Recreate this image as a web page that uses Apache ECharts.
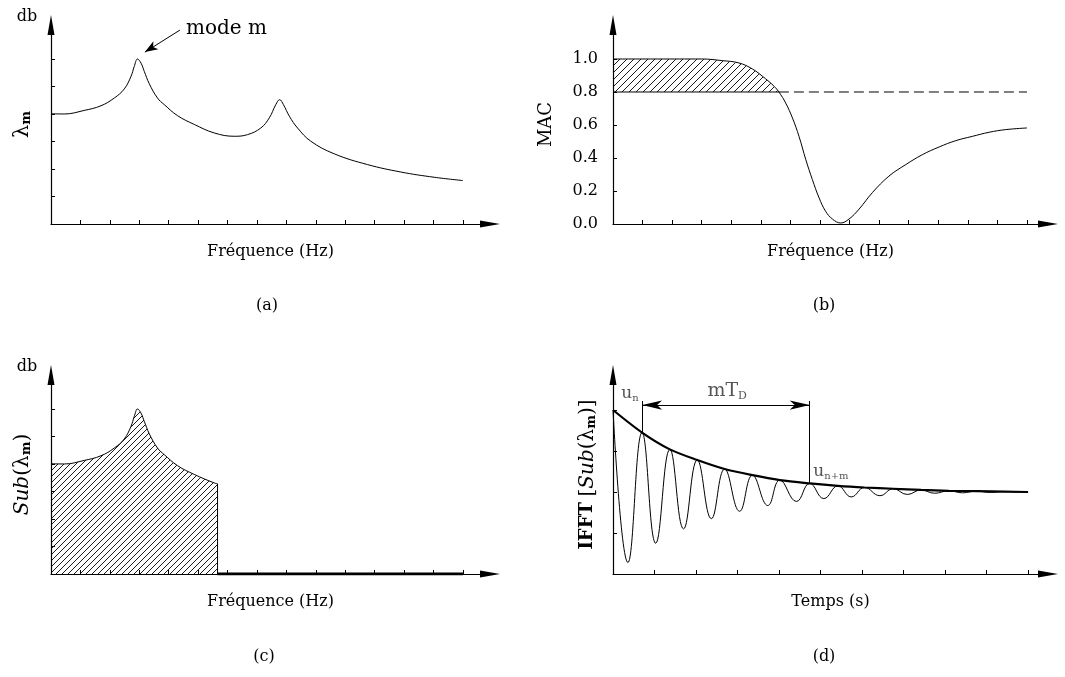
<!DOCTYPE html>
<html>
<head>
<meta charset="utf-8">
<script src="https://cdn.jsdelivr.net/npm/echarts@6/dist/echarts.min.js"></script>
<style>
  html, body { margin: 0; padding: 0; background: #fff; }
  #chart { width: 1065px; height: 677px; }
</style>
</head>
<body>
<div id="chart"></div>
<script>
// ---- tick positions ----
const freqTicks = [0, 1, 2, 3, 4, 5, 6, 7, 8, 9, 10, 11, 12, 13, 14];
const levelTicks = [1, 2, 3, 4, 5, 6];
const macTicks = [0, 0.2, 0.4, 0.6, 0.8, 1.0];
const timeTicks = [0, 1, 2, 3, 4, 5, 6, 7, 8, 9, 10];
const ifftTicks = [1, 2, 3, 4];

// ---- (a) FRF magnitude, [frequency step, level] ----
const spectrum = [
  [0, 4.01], [0.45, 4.0], [1.13, 4.13], [1.70, 4.30], [2.15, 4.58], [2.49, 4.91],
  [2.72, 5.37], [2.83, 5.73], [2.94, 6.0], [3.06, 5.85], [3.17, 5.55], [3.34, 5.10],
  [3.62, 4.58], [3.85, 4.34], [4.30, 3.94], [4.87, 3.62], [5.55, 3.31], [6.23, 3.19],
  [6.68, 3.25], [7.13, 3.49], [7.42, 3.86], [7.64, 4.34], [7.77, 4.52], [7.90, 4.34],
  [8.10, 3.92], [8.38, 3.49], [8.83, 3.01], [9.63, 2.55], [10.76, 2.16], [11.89, 1.89],
  [13.02, 1.70], [14.0, 1.58]
];

// ---- (c) sub-band kept around mode m ----
const subCutoff = 5.66;
const subCutLevel = 3.28;

// ---- (b) MAC along frequency ----
const mac = [
  [0, 1.0], [1.5, 1.0], [3.0, 1.0], [3.70, 0.99], [4.26, 0.976], [4.71, 0.94],
  [5.16, 0.88], [5.45, 0.834], [5.61, 0.80], [5.84, 0.733], [6.07, 0.642], [6.29, 0.531],
  [6.52, 0.39], [6.74, 0.27], [6.97, 0.158], [7.19, 0.077], [7.42, 0.03], [7.70, 0.006],
  [7.98, 0.03], [8.32, 0.09], [8.77, 0.19], [9.33, 0.29], [9.90, 0.36], [10.46, 0.42],
  [11.03, 0.467], [11.59, 0.505], [12.15, 0.531], [12.72, 0.556], [13.28, 0.572], [14.0, 0.582]
];
const macThreshold = 0.8;
const macCross = 5.61;

// ---- (d) impulse response of the sub-band: extrema and decay envelope ----
const ifftWave = [
  [0, 4.0], [0.36, 0.28], [0.70, 3.45], [1.03, 0.75], [1.37, 3.04], [1.70, 1.10],
  [2.03, 2.78], [2.37, 1.35], [2.69, 2.56], [3.05, 1.53], [3.36, 2.41], [3.73, 1.67],
  [4.02, 2.29], [4.42, 1.77], [4.74, 2.21], [5.08, 1.84], [5.42, 2.15], [5.74, 1.88],
  [6.06, 2.11], [6.43, 1.91], [6.75, 2.08], [7.09, 1.94], [7.42, 2.05], [7.75, 1.97],
  [8.09, 2.03], [8.42, 1.98], [8.76, 2.02], [9.09, 1.99], [9.43, 2.01], [9.76, 1.995],
  [10.0, 2.0]
];
const ifftEnvelope = [
  [0, 4.0], [0.70, 3.45], [1.37, 3.04], [2.03, 2.78], [2.69, 2.56], [3.36, 2.41],
  [4.02, 2.29], [4.74, 2.21], [5.42, 2.15], [6.06, 2.11], [6.75, 2.08], [7.42, 2.05],
  [8.09, 2.03], [8.76, 2.02], [9.43, 2.01], [10.0, 2.0]
];
const peakN = [0.70, 3.45];
const peakNM = [4.74, 2.21];
const dimLevel = 4.12;
const dimTop = 4.22;

// ---- styling helpers ----
const FONT = 'DejaVu Serif';
const INK = '#000';

function hatch(step) {
  const c = document.createElement('canvas');
  c.width = step; c.height = step;
  const g = c.getContext('2d');
  g.strokeStyle = '#000';
  g.lineWidth = 0.9;
  g.beginPath();
  g.moveTo(0, step); g.lineTo(step, 0);
  g.moveTo(-1, 1); g.lineTo(1, -1);
  g.moveTo(step - 1, step + 1); g.lineTo(step + 1, step - 1);
  g.stroke();
  return { image: c, repeat: 'repeat' };
}

const axisLine = {
  show: true,
  symbol: ['none', 'triangle'],
  symbolSize: [7, 20],
  lineStyle: { color: INK, width: 1.2 }
};

function xAxis(gridIndex, max, ticks, name) {
  return {
    type: 'value', gridIndex, min: 0, max,
    axisLine,
    axisTick: { show: true, inside: true, length: 4, customValues: ticks, lineStyle: { color: INK, width: 1 } },
    axisLabel: { show: false },
    splitLine: { show: false },
    name, nameLocation: 'middle', nameGap: 20,
    nameTextStyle: { fontFamily: FONT, fontSize: 16, color: INK }
  };
}

function yAxis(gridIndex, max, ticks, name, gap, rich, labels) {
  return {
    type: 'value', gridIndex, min: 0, max,
    axisLine,
    axisTick: { show: true, inside: true, length: 4, customValues: ticks, lineStyle: { color: INK, width: 1 } },
    axisLabel: labels || { show: false },
    splitLine: { show: false },
    name, nameLocation: 'middle', nameGap: gap, nameRotate: 90,
    nameTextStyle: { fontFamily: FONT, fontSize: 18, color: INK, rich }
  };
}

const thin = { color: INK, width: 1 };
const base = { type: 'line', showSymbol: false, silent: true, animation: false };

const subSpectrum = spectrum.filter(p => p[0] < subCutoff).concat([[subCutoff, subCutLevel]]);
const macBand = mac.filter(p => p[0] <= macCross);
const macHatch = hatch(7);

const subRich = {
  l: { fontFamily: FONT, fontSize: 21, color: INK },
  s: { fontFamily: FONT, fontSize: 13, fontWeight: 'bold', color: INK, padding: [8, 0, 0, 0] },
  i: { fontFamily: FONT, fontSize: 20, fontStyle: 'italic', color: INK },
  b: { fontFamily: FONT, fontSize: 18, fontWeight: 'bold', color: INK },
  n: { fontFamily: FONT, fontSize: 20, color: INK }
};

const noteRich = {
  u: { fontFamily: FONT, fontSize: 17, color: '#555' },
  s: { fontFamily: FONT, fontSize: 10, color: '#555', padding: [8, 0, 0, 0] }
};

const option = {
  backgroundColor: '#fff',
  animation: false,
  grid: [
    { left: 51, top: 25, width: 439, height: 199 },
    { left: 613, top: 25, width: 435, height: 199 },
    { left: 51, top: 375, width: 439, height: 199 },
    { left: 613, top: 375, width: 435, height: 199 }
  ],
  xAxis: [
    xAxis(0, 14.92, freqTicks, 'Fréquence (Hz)'),
    xAxis(1, 14.71, freqTicks, 'Fréquence (Hz)'),
    xAxis(2, 14.92, freqTicks, 'Fréquence (Hz)'),
    xAxis(3, 10.48, timeTicks, 'Temps (s)')
  ],
  yAxis: [
    yAxis(0, 7.236, levelTicks, '{l|λ}{s|m}', 18, subRich),
    yAxis(1, 1.206, macTicks, 'MAC', 58, subRich, {
      show: true, customValues: macTicks, margin: 15,
      formatter: v => v.toFixed(1),
      fontFamily: FONT, fontSize: 16, color: INK
    }),
    yAxis(2, 7.236, levelTicks, '{i|Sub}{n|(λ}{s|m}{n|)}', 18, subRich),
    yAxis(3, 4.854, ifftTicks, '{b|IFFT} {n|[}{i|Sub}{n|(λ}{s|m}{n|)]}', 15, subRich)
  ],
  series: [
    // (a)
    Object.assign({}, base, {
      xAxisIndex: 0, yAxisIndex: 0, data: spectrum, smooth: 0.4, lineStyle: thin,
      markLine: {
        silent: true, animation: false,
        symbol: ['none', 'arrow'], symbolSize: [7, 13],
        label: { show: false },
        lineStyle: { color: INK, width: 1, type: 'solid', curveness: -0.3 },
        data: [[{ coord: [4.38, 7.05] }, { coord: [3.19, 6.25] }]]
      }
    }),
    // (b) hatched region between the 0.8 threshold and the MAC curve
    {
      type: 'custom', xAxisIndex: 1, yAxisIndex: 1, silent: true, animation: false,
      data: [[0, macThreshold]],
      renderItem(params, api) {
        const top = macBand.map(p => api.coord(p));
        const bottom = [api.coord([macCross, macThreshold]), api.coord([0, macThreshold])];
        return {
          type: 'polygon',
          shape: { points: top.concat(bottom) },
          style: { fill: macHatch, stroke: null }
        };
      }
    },
    Object.assign({}, base, {
      xAxisIndex: 1, yAxisIndex: 1,
      data: [[0, macThreshold], [macCross, macThreshold]], lineStyle: thin
    }),
    Object.assign({}, base, {
      xAxisIndex: 1, yAxisIndex: 1,
      data: [[macCross, macThreshold], [14, macThreshold]],
      lineStyle: { color: INK, width: 1, type: [10, 5] }
    }),
    Object.assign({}, base, {
      xAxisIndex: 1, yAxisIndex: 1, data: mac, smooth: 0.4, lineStyle: thin
    }),
    // (c) kept sub-band, hatched down to the axis
    Object.assign({}, base, {
      xAxisIndex: 2, yAxisIndex: 2, data: subSpectrum, smooth: 0.4, lineStyle: thin,
      areaStyle: { color: hatch(6), opacity: 1 }
    }),
    Object.assign({}, base, {
      xAxisIndex: 2, yAxisIndex: 2,
      data: [[subCutoff, subCutLevel], [subCutoff, 0]], lineStyle: thin
    }),
    Object.assign({}, base, {
      xAxisIndex: 2, yAxisIndex: 2,
      data: [[subCutoff, 0], [14, 0]], lineStyle: { color: INK, width: 3 }
    }),
    // (d) decaying response and its envelope
    Object.assign({}, base, {
      xAxisIndex: 3, yAxisIndex: 3, data: ifftWave, smooth: 0.45, lineStyle: thin
    }),
    Object.assign({}, base, {
      xAxisIndex: 3, yAxisIndex: 3, data: ifftEnvelope, smooth: 0.3,
      lineStyle: { color: INK, width: 2.2 },
      markLine: {
        silent: true, animation: false,
        symbolSize: [7, 20],
        label: { show: false },
        lineStyle: { color: INK, width: 1, type: 'solid' },
        data: [
          [{ coord: peakN, symbol: 'none' }, { coord: [peakN[0], dimTop], symbol: 'none' }],
          [{ coord: peakNM, symbol: 'none' }, { coord: [peakNM[0], dimTop], symbol: 'none' }],
          [{ coord: [peakN[0], dimLevel], symbol: 'arrow' }, { coord: [peakNM[0], dimLevel], symbol: 'arrow' }]
        ]
      },
      markPoint: {
        silent: true, animation: false,
        symbol: 'circle', symbolSize: 0,
        label: { show: true, position: 'inside', rich: noteRich },
        data: [
          { coord: [0.41, 4.39], label: { formatter: '{u|u}{s|n}' } },
          { coord: [2.75, 4.46], label: { formatter: '{u|mT}{s|D}', rich: {
            u: { fontFamily: FONT, fontSize: 19, color: '#555' },
            s: { fontFamily: FONT, fontSize: 11, color: '#555', padding: [9, 0, 0, 0] }
          } } },
          { coord: [5.25, 2.49], label: { formatter: '{u|u}{s|n+m}' } }
        ]
      }
    })
  ],
  graphic: [
    { type: 'text', x: 27, y: 17, style: { text: 'db', fontFamily: FONT, fontSize: 16, fill: INK, align: 'center', verticalAlign: 'middle' } },
    { type: 'text', x: 27, y: 367, style: { text: 'db', fontFamily: FONT, fontSize: 16, fill: INK, align: 'center', verticalAlign: 'middle' } },
    { type: 'text', x: 186, y: 29, style: { text: 'mode m', fontFamily: FONT, fontSize: 20, fill: INK, align: 'left', verticalAlign: 'middle' } },
    { type: 'text', x: 267, y: 306, style: { text: '(a)', fontFamily: FONT, fontSize: 16, fill: INK, align: 'center', verticalAlign: 'middle' } },
    { type: 'text', x: 824, y: 306, style: { text: '(b)', fontFamily: FONT, fontSize: 16, fill: INK, align: 'center', verticalAlign: 'middle' } },
    { type: 'text', x: 264, y: 657, style: { text: '(c)', fontFamily: FONT, fontSize: 16, fill: INK, align: 'center', verticalAlign: 'middle' } },
    { type: 'text', x: 824, y: 657, style: { text: '(d)', fontFamily: FONT, fontSize: 16, fill: INK, align: 'center', verticalAlign: 'middle' } }
  ]
};

const chart = echarts.init(document.getElementById('chart'), null, { renderer: 'canvas' });
chart.setOption(option);
</script>
</body>
</html>
